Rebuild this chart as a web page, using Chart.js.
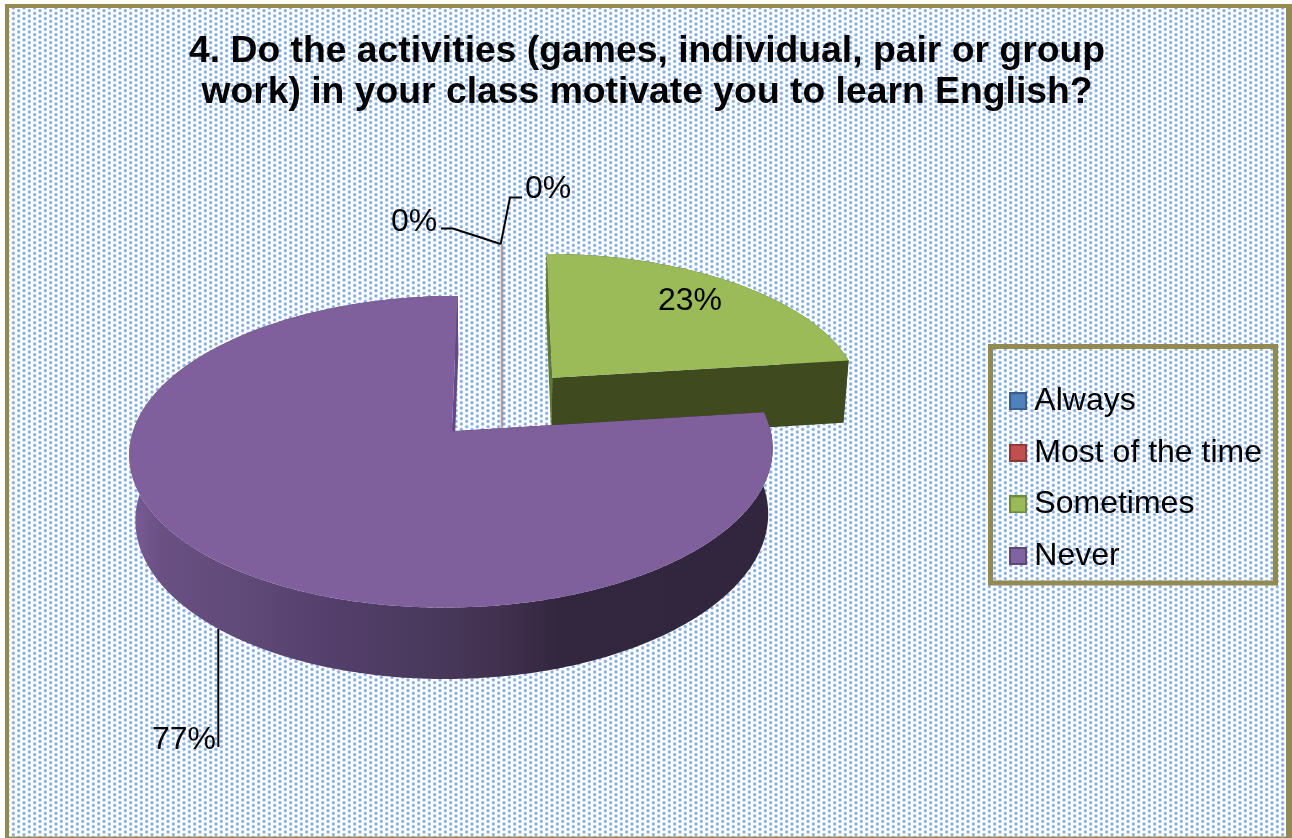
<!DOCTYPE html>
<html>
<head>
<meta charset="utf-8">
<title>Class activities survey</title>
<style>
  html, body { margin: 0; padding: 0; background: #fff; }
  canvas { display: block; }
</style>
<script src="https://cdn.jsdelivr.net/npm/chart.js@4/dist/chart.umd.js"></script>
</head>
<body>
<canvas id="surveyPie" width="1292" height="838"></canvas>
<script>
const titleLines = [
    '4. Do the activities (games, individual, pair or group',
    'work) in your class motivate you to learn English?'
];
const categories = ['Always', 'Most of the time', 'Sometimes', 'Never'];
const percentages = [0, 0, 23, 77];

const sliceColors = ['#4f81bd', '#c0504d', '#9bbb59', '#7f609d'];
const swatchColors = ['#4f81bd', '#c0504d', '#9bbb59', '#8064a2'];
const swatchBorders = ['#385d8a', '#8c3836', '#71893f', '#5c4776'];

const FONT = '"Liberation Sans", Arial, sans-serif';
const OLIVE = '#938953';

// Tilted-disc projection: u,v are disc coordinates (radius 1), z is 0 on top, 1 underneath
const CX = 502, CY = 404.5, RX = 311.5, RY = 146.2, DEPTH = 65;
const TILT = 0.1286, SHRINK = 0.016;

function project(u, v, z) {
    const w = 1 - TILT * v + SHRINK * z;
    return [CX + RX * u / w, CY + (RY * v + DEPTH * z) / w];
}

function tracePoly(ctx, pts) {
    ctx.beginPath();
    pts.forEach((p, i) => i ? ctx.lineTo(p[0], p[1]) : ctx.moveTo(p[0], p[1]));
    ctx.closePath();
}

// Side wall colours per slice: rim, wall at the start angle, wall at the end angle
function wallPaint(ctx, color) {
    if (color === sliceColors[2]) {
        return { rim: '#3f4a1f', start: '#5f7a30', end: '#3f4a1f' };
    }
    const rim = ctx.createLinearGradient(128, 0, 772, 0);
    rim.addColorStop(0, '#7b5e98');
    rim.addColorStop(0.05, '#6a5083');
    rim.addColorStop(0.18, '#5f4a78');
    rim.addColorStop(0.31, '#553f6c');
    rim.addColorStop(0.45, '#4a3a5e');
    rim.addColorStop(0.58, '#41304e');
    rim.addColorStop(0.67, '#32273f');
    rim.addColorStop(1, '#32263f');
    return { rim, start: '#32263f', end: '#64498a' };
}

// Slices keep the angles the pie controller computes, but are painted as a tilted solid
Chart.ArcElement.prototype.draw = function (ctx) {
    const { startAngle, endAngle } = this.getProps(['startAngle', 'endAngle']);
    const color = this.options.backgroundColor;
    const explode = this.options.offset / 100;
    const mid = (startAngle + endAngle) / 2;
    const ax = explode * Math.cos(mid);
    const ay = explode * Math.sin(mid);

    const span = endAngle - startAngle;
    const steps = Math.max(1, Math.ceil(span / 0.01));
    const rimAt = z => {
        const pts = [];
        for (let i = 0; i <= steps; i++) {
            const a = startAngle + span * i / steps;
            pts.push(project(ax + Math.cos(a), ay + Math.sin(a), z));
        }
        return pts;
    };
    const apexTop = project(ax, ay, 0);
    const apexBottom = project(ax, ay, 1);
    const top = rimAt(0);
    const bottom = rimAt(1);

    ctx.save();
    if (span < 1e-6) {
        // A 0% slice shows up as a hairline only
        ctx.globalAlpha = 0.4;
        ctx.strokeStyle = color;
        ctx.lineWidth = 2.5;
        ctx.beginPath();
        ctx.moveTo(top[0][0], top[0][1]);
        ctx.lineTo(apexTop[0], apexTop[1]);
        ctx.lineTo(apexBottom[0], apexBottom[1]);
        ctx.stroke();
        ctx.restore();
        return;
    }

    const paint = wallPaint(ctx, color);
    tracePoly(ctx, top.concat(bottom.slice().reverse()));
    ctx.fillStyle = paint.rim;
    ctx.fill();

    tracePoly(ctx, [apexTop, top[0], bottom[0], apexBottom]);
    ctx.fillStyle = paint.start;
    ctx.fill();
    tracePoly(ctx, [apexTop, top[steps], bottom[steps], apexBottom]);
    ctx.fillStyle = paint.end;
    ctx.fill();

    tracePoly(ctx, [apexTop].concat(top));
    ctx.fillStyle = color;
    ctx.fill();
    ctx.restore();
};

function dotTile() {
    const tile = document.createElement('canvas');
    tile.width = 32;
    tile.height = 16;
    const c = tile.getContext('2d');
    c.fillStyle = '#fff';
    c.fillRect(0, 0, 32, 16);
    const step = 16 / 3;
    for (let col = -1; col <= 6; col++) {
        for (let row = -1; row <= 3; row++) {
            const x = col * step + step / 2;
            const y = row * step + step / 2 + (col % 2 ? step / 2 : 0);
            const g = c.createRadialGradient(x, y, 0, x, y, 2.5);
            g.addColorStop(0, '#6f9fd8');
            g.addColorStop(0.55, '#a4c3e6');
            g.addColorStop(1, 'rgba(255,255,255,0)');
            c.fillStyle = g;
            c.fillRect(x - 3, y - 3, 6, 6);
        }
    }
    return tile;
}

function swatch(fill, border) {
    const s = document.createElement('canvas');
    s.width = 18;
    s.height = 18;
    const c = s.getContext('2d');
    c.fillStyle = fill;
    c.fillRect(0, 0, 18, 18);
    c.strokeStyle = border;
    c.lineWidth = 2;
    c.strokeRect(1, 1, 16, 16);
    return s;
}

const backdrop = {
    id: 'backdrop',
    beforeDraw(chart) {
        const { ctx, width, height } = chart;
        ctx.save();
        ctx.fillStyle = '#fff';
        ctx.fillRect(0, 0, width, height);
        ctx.fillStyle = OLIVE;
        ctx.fillRect(5, 4, width - 5, height - 4);
        ctx.fillStyle = ctx.createPattern(dotTile(), 'repeat');
        ctx.fillRect(9, 8, width - 15, height - 9.5);
        ctx.restore();
    },
    beforeDatasetsDraw(chart) {
        const { ctx } = chart;
        ctx.save();
        ctx.strokeStyle = OLIVE;
        ctx.lineWidth = 5;
        ctx.strokeRect(990.5, 346.5, 285, 236.5);
        ctx.restore();
    }
};

// Percentage labels with their leader lines
const labelCallouts = [
    { text: 0, x: 414, y: 222, leader: [[441, 228.5], [453, 228.5], [500.7, 244]] },
    { text: 1, x: 548, y: 189, leader: [[522, 197.5], [510, 197.5], [500.7, 244]] },
    { text: 2, x: 690, y: 301, leader: null },
    { text: 3, x: 184, y: 740, leader: [[218.3, 629], [218.3, 747]] }
];

const callouts = {
    id: 'callouts',
    afterDatasetsDraw(chart) {
        const { ctx } = chart;
        ctx.save();
        ctx.strokeStyle = '#000';
        ctx.lineWidth = 2;
        ctx.fillStyle = '#000';
        ctx.font = '32px ' + FONT;
        ctx.textAlign = 'center';
        ctx.textBaseline = 'middle';
        labelCallouts.forEach(c => {
            if (c.leader) {
                ctx.beginPath();
                c.leader.forEach((p, i) => i ? ctx.lineTo(p[0], p[1]) : ctx.moveTo(p[0], p[1]));
                ctx.stroke();
            }
            ctx.fillText(percentages[c.text] + '%', c.x, c.y);
        });
        ctx.restore();
    }
};

new Chart(document.getElementById('surveyPie'), {
    type: 'pie',
    data: {
        labels: categories,
        datasets: [{
            data: percentages,
            backgroundColor: sliceColors,
            borderWidth: 0,
            offset: [27.8, 27.8, 25, 23.8],
            clip: false
        }]
    },
    options: {
        responsive: false,
        animation: false,
        events: [],
        layout: { padding: { left: 22, right: 20 } },
        plugins: {
            tooltip: { enabled: false },
            title: {
                display: true,
                text: titleLines,
                color: '#000',
                font: { family: FONT, size: 37.3, weight: 'bold', lineHeight: 1.1 },
                padding: { top: 31, bottom: 6 }
            },
            legend: {
                position: 'right',
                fullSize: false,
                labels: {
                    usePointStyle: true,
                    boxWidth: 0.5,
                    padding: 19.6,
                    color: '#000',
                    font: { family: FONT, size: 32 },
                    generateLabels(chart) {
                        return categories.map((name, i) => ({
                            text: name,
                            index: i,
                            fontColor: '#000',
                            pointStyle: swatch(swatchColors[i], swatchBorders[i])
                        }));
                    }
                }
            }
        }
    },
    plugins: [backdrop, callouts]
});
</script>
</body>
</html>
